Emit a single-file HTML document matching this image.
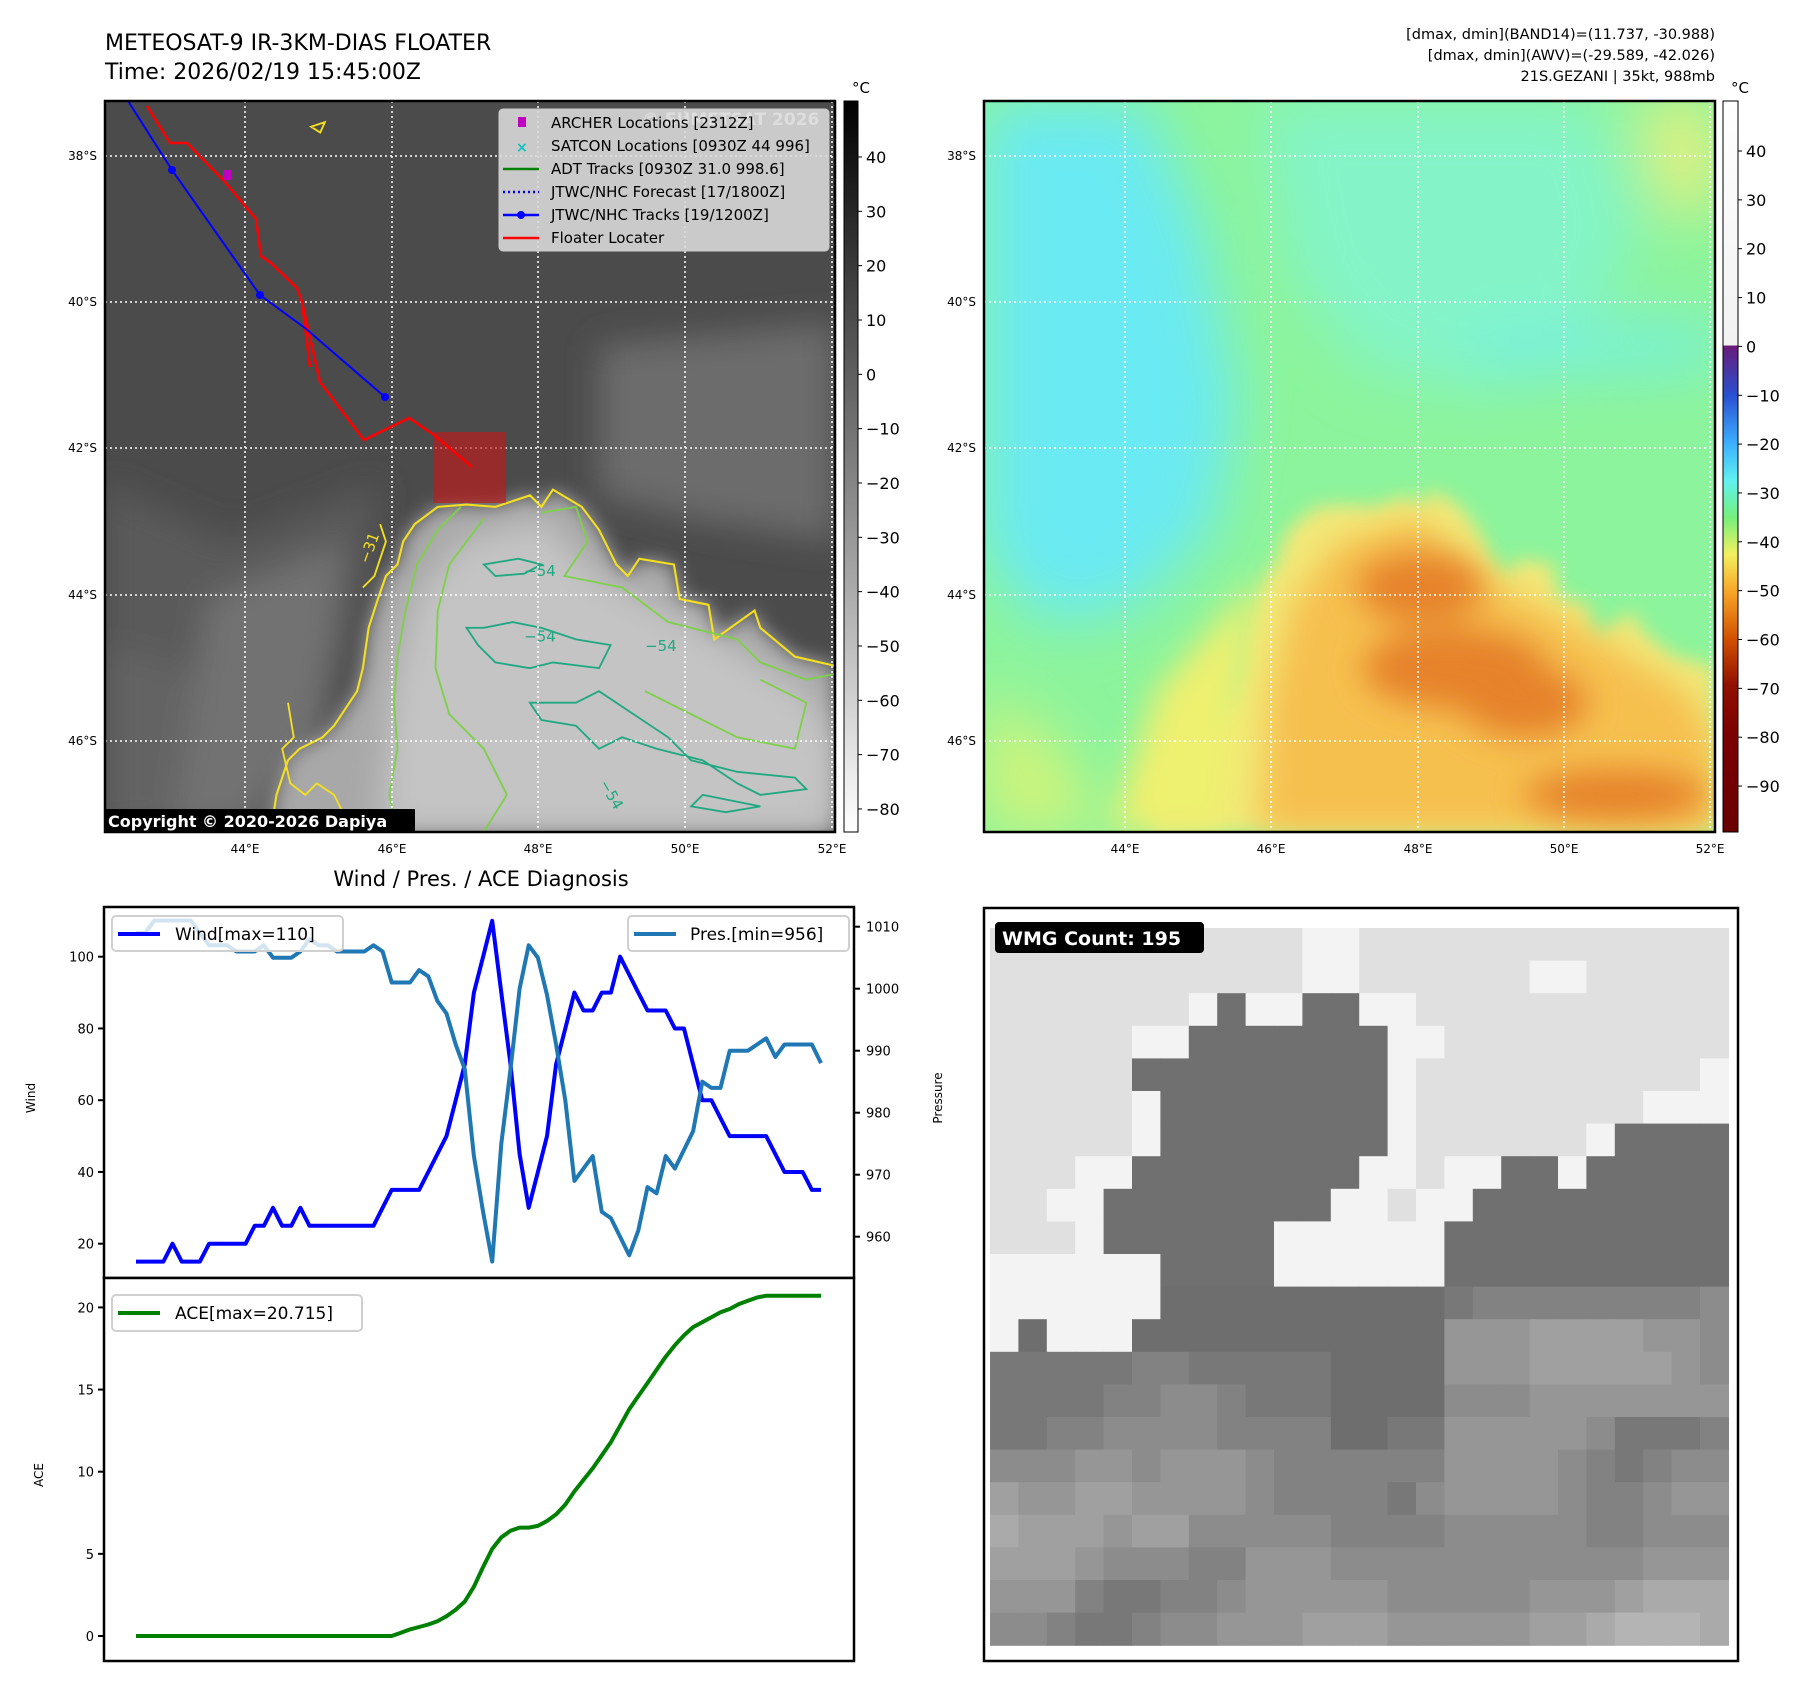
<!DOCTYPE html>
<html><head><meta charset="utf-8"><style>
html,body{margin:0;padding:0;background:#fff;}
svg{display:block;font-family:"DejaVu Sans","Liberation Sans",sans-serif;}
</style></head><body>
<svg id="fig" xmlns="http://www.w3.org/2000/svg" width="1797" height="1690" viewBox="0 0 1797 1690">
<defs>
  <filter id="blur8" x="-20%" y="-20%" width="140%" height="140%"><feGaussianBlur stdDeviation="8"/></filter>
  <filter id="blur14" x="-20%" y="-20%" width="140%" height="140%"><feGaussianBlur stdDeviation="14"/></filter>
  <filter id="blur25" x="-30%" y="-30%" width="160%" height="160%"><feGaussianBlur stdDeviation="25"/></filter>
  <clipPath id="clipL"><rect x="105" y="101" width="730" height="731"/></clipPath>
  <clipPath id="clipR"><rect x="984" y="101" width="731" height="731"/></clipPath>
  <linearGradient id="cbGrey" x1="0" y1="0" x2="0" y2="1">
    <stop offset="0" stop-color="#000"/><stop offset="1" stop-color="#fff"/>
  </linearGradient>
  <linearGradient id="cbColor" x1="0" y1="0" x2="0" y2="1">
    <stop offset="0" stop-color="#ffffff"/><stop offset="0.334" stop-color="#f2f2f2"/>
    <stop offset="0.335" stop-color="#6a1b7a"/><stop offset="0.402" stop-color="#2a4fd0"/>
    <stop offset="0.469" stop-color="#3cb0ff"/><stop offset="0.52" stop-color="#60f2f0"/>
    <stop offset="0.57" stop-color="#76f07a"/><stop offset="0.62" stop-color="#f2f060"/>
    <stop offset="0.67" stop-color="#f8a828"/><stop offset="0.737" stop-color="#d05000"/>
    <stop offset="0.80" stop-color="#901000"/><stop offset="0.87" stop-color="#7a0000"/>
    <stop offset="1" stop-color="#680000"/>
  </linearGradient>
</defs>

<text x="105" y="50" font-size="22">METEOSAT-9 IR-3KM-DIAS FLOATER</text>
<text x="105" y="79" font-size="22">Time: 2026/02/19 15:45:00Z</text>
<g font-size="14.5" text-anchor="end">
  <text x="1715" y="39">[dmax, dmin](BAND14)=(11.737, -30.988)</text>
  <text x="1715" y="60">[dmax, dmin](AWV)=(-29.589, -42.026)</text>
  <text x="1715" y="81">21S.GEZANI | 35kt, 988mb</text>
</g>

<!-- LEFT MAP -->
<g clip-path="url(#clipL)">
  <rect x="105" y="101" width="730" height="731" fill="#4b4b4b"/>
  <g transform="scale(1.152)" filter="url(#blur14)">
    <polygon points="91,420 200,470 330,420 300,560 240,722 91,722" fill="#5a5a5a"/>
    <polygon points="520,300 725,280 725,470 600,450 520,430" fill="#6c6c6c"/>
    <polygon points="90,560 240,600 230,722 90,722" fill="#646464"/>
    <polygon points="180,520 300,470 280,640 200,722 150,722" fill="#727272"/>
  </g>
  <g transform="scale(1.152)">
    <path filter="url(#blur8)" fill="#a8a8a8" d="M725,578 L690,570 L660,545 L655,530 L620,555 L615,525 L590,520 L585,490 L555,485 L545,500 L535,490 L520,460 L505,440 L480,425 L470,440 L460,430 L430,440 L405,438 L380,440 L360,455 L350,470 L345,490 L335,500 L328,520 L320,545 L315,580 L310,600 L300,615 L290,630 L280,640 L260,650 L250,660 L240,690 L235,722 L725,722 Z"/>
    <path filter="url(#blur14)" fill="#c4c4c4" d="M400,470 L470,450 L520,500 L600,540 L700,600 L725,640 L725,722 L330,722 L340,600 L360,520 Z"/>
    <path fill="none" stroke="#f5e020" stroke-width="1.8" d="M725,578 L690,570 L660,545 L655,530 L620,555 L615,525 L590,520 L585,490 L555,485 L545,500 L535,490 L520,460 L505,440 L480,425 L470,440 L460,430 L430,440 L405,438 L380,440 L360,455 L350,470 L345,490 L335,500 L328,520 L320,545 L315,580 L310,600 L300,615 L290,630 L280,640 L260,650 L250,660 L240,690 L235,722"/>
    <path fill="none" stroke="#f5e020" stroke-width="1.6" d="M250,610 L255,640 L245,650 L252,680 L265,690 L275,680 L290,690 L300,710 L285,722 M270,110 L282,106 L278,115 Z M330,455 L335,470 L325,500 L315,510"/>
    <path fill="none" stroke="#7ed04a" stroke-width="1.6" d="M400,440 L380,460 L362,490 L352,530 L345,570 L342,610 L345,650 L338,690 L345,722 M420,450 L390,490 L380,530 L378,580 L390,620 L420,650 L440,690 L420,722 M470,445 L500,440 L510,470 L490,500 L540,510 L580,540 L640,555 L660,575 L700,590 L725,585 M560,600 L600,620 L640,640 L690,650 L700,610 L660,590"/>
    <path fill="none" stroke="#20a880" stroke-width="1.6" d="M405,545 L415,560 L430,575 L460,580 L480,575 L520,580 L530,560 L500,555 L470,545 L445,540 L420,545 Z M460,610 L470,625 L500,630 L520,650 L540,640 L570,650 L610,660 L640,680 L660,690 L700,685 L690,675 L640,670 L600,660 L580,640 L550,620 L520,600 L500,610 Z M420,490 L430,500 L455,498 L470,490 L450,485 Z M600,700 L630,705 L660,700 L610,690 Z"/>
    <text x="320" y="490" fill="#f5e020" font-size="13" transform="rotate(-70 320 490)">−31</text>
    <text x="455" y="500" fill="#20a880" font-size="13">−54</text>
    <text x="455" y="557" fill="#20a880" font-size="13">−54</text>
    <text x="560" y="565" fill="#20a880" font-size="13">−54</text>
    <text x="520" y="680" fill="#20a880" font-size="13" transform="rotate(60 520 680)">−54</text>
  </g>
  <g stroke="#fff" stroke-width="1.5" stroke-dasharray="2,3">
    <line x1="245" y1="101" x2="245" y2="832"/><line x1="392" y1="101" x2="392" y2="832"/><line x1="538" y1="101" x2="538" y2="832"/><line x1="685" y1="101" x2="685" y2="832"/><line x1="832" y1="101" x2="832" y2="832"/>
    <line x1="105" y1="156" x2="835" y2="156"/><line x1="105" y1="302" x2="835" y2="302"/><line x1="105" y1="448" x2="835" y2="448"/><line x1="105" y1="595" x2="835" y2="595"/><line x1="105" y1="741" x2="835" y2="741"/>
  </g>
  <rect x="433" y="432" width="73" height="71" fill="#c01818" opacity="0.65"/>
  <polyline fill="none" stroke="#ff0000" stroke-width="2.5" points="147,106 170,143 187,143 225,182 256,219 261,256 271,263 297,288 302,302 310,367 302,302 320,382 364,440 409,418 434,435 472,467"/>
  <polyline fill="none" stroke="#0000ff" stroke-width="2" points="128,101 172,170 260,295 305,328 385,397"/>
  <g fill="#0000ff"><circle cx="172" cy="170" r="4"/><circle cx="260" cy="295" r="4"/><circle cx="385" cy="397" r="4"/></g>
  <rect x="223" y="170" width="8" height="10" fill="#c000c0"/>
  <text x="642" y="125" font-size="17" font-weight="bold" fill="#e8e8e8">© EUMETSAT 2026</text>
  <g font-size="15">
    <rect x="499" y="109" width="330" height="142" rx="4" fill="#dcdcdc" fill-opacity="0.88" stroke="#ccc"/>
    <rect x="518" y="117" width="8" height="10" fill="#c000c0"/>
    <text x="551" y="128">ARCHER Locations [2312Z]</text>
    <text x="516" y="152" fill="#10c0c0" font-weight="bold" font-size="14">×</text>
    <text x="551" y="151">SATCON Locations [0930Z 44 996]</text>
    <line x1="503" y1="169" x2="539" y2="169" stroke="#008000" stroke-width="2.5"/>
    <text x="551" y="174">ADT Tracks [0930Z 31.0 998.6]</text>
    <line x1="503" y1="192" x2="539" y2="192" stroke="#0000ff" stroke-width="2.5" stroke-dasharray="2,3"/>
    <text x="551" y="197">JTWC/NHC Forecast [17/1800Z]</text>
    <line x1="503" y1="215" x2="539" y2="215" stroke="#0000ff" stroke-width="2.5"/><circle cx="521" cy="215" r="4" fill="#0000ff"/>
    <text x="551" y="220">JTWC/NHC Tracks [19/1200Z]</text>
    <line x1="503" y1="238" x2="539" y2="238" stroke="#ff0000" stroke-width="2.5"/>
    <text x="551" y="243">Floater Locater</text>
  </g>
  <rect x="105" y="809" width="310" height="23" fill="#000"/>
  <text x="108" y="827" font-size="16" font-weight="bold" fill="#fff">Copyright © 2020-2026 Dapiya</text>
</g>
<rect x="105" y="101" width="730" height="731" fill="none" stroke="#000" stroke-width="2.5"/>

<!-- RIGHT MAP -->
<g clip-path="url(#clipR)">
  <rect x="984" y="101" width="731" height="731" fill="#8cf49c"/>
  <g transform="translate(879,0) scale(1.152)">
    <g filter="url(#blur25)">
      <polygon points="91,88 230,88 280,200 310,350 290,460 220,530 140,540 91,480" fill="#6aeaf2"/>
      <polygon points="330,88 620,88 660,200 600,320 520,340 420,320 360,240" fill="#84f4c8"/>
      <polygon points="500,290 725,280 725,320 540,325" fill="#76f0e0"/>
      <polygon points="91,600 150,640 200,722 91,722" fill="#d0f47a"/>
      <polygon points="660,88 725,88 725,190 680,180" fill="#e8f080"/>
    </g>
    <path filter="url(#blur8)" fill="#f2e878" d="M725,578 L690,570 L660,545 L655,530 L620,555 L615,525 L590,520 L585,490 L555,485 L545,500 L535,490 L520,460 L505,440 L480,425 L470,440 L460,430 L430,440 L405,438 L380,440 L360,455 L350,470 L345,490 L335,500 L328,520 L320,545 L315,580 L310,600 L300,615 L290,630 L280,640 L260,650 L250,660 L240,690 L235,722 L725,722 Z"/>
    <path filter="url(#blur14)" fill="#eef070" d="M330,500 L240,600 L200,722 L300,722 Z"/>
    <path filter="url(#blur14)" fill="#f6c050" d="M400,470 L470,450 L520,500 L600,540 L700,600 L725,640 L725,722 L330,722 L340,600 L360,520 Z"/>
    <g filter="url(#blur14)" fill="#e6822a">
      <ellipse cx="470" cy="510" rx="55" ry="30"/>
      <ellipse cx="500" cy="580" rx="80" ry="35"/>
      <ellipse cx="560" cy="610" rx="55" ry="30"/>
      <ellipse cx="640" cy="690" rx="80" ry="22"/>
    </g>
  </g>
  <g stroke="#fff" stroke-width="1.5" stroke-dasharray="2,3">
    <line x1="1125" y1="101" x2="1125" y2="832"/><line x1="1271" y1="101" x2="1271" y2="832"/><line x1="1418" y1="101" x2="1418" y2="832"/><line x1="1564" y1="101" x2="1564" y2="832"/><line x1="1710" y1="101" x2="1710" y2="832"/>
    <line x1="984" y1="156" x2="1715" y2="156"/><line x1="984" y1="302" x2="1715" y2="302"/><line x1="984" y1="448" x2="1715" y2="448"/><line x1="984" y1="595" x2="1715" y2="595"/><line x1="984" y1="741" x2="1715" y2="741"/>
  </g>
</g>
<rect x="984" y="101" width="731" height="731" fill="none" stroke="#000" stroke-width="2.5"/>

<g font-size="12">
  <g text-anchor="end">
    <text x="97" y="160">38°S</text><text x="97" y="306">40°S</text><text x="97" y="452">42°S</text><text x="97" y="599">44°S</text><text x="97" y="745">46°S</text>
    <text x="976" y="160">38°S</text><text x="976" y="306">40°S</text><text x="976" y="452">42°S</text><text x="976" y="599">44°S</text><text x="976" y="745">46°S</text>
  </g>
  <g text-anchor="middle">
    <text x="245" y="853">44°E</text><text x="392" y="853">46°E</text><text x="538" y="853">48°E</text><text x="685" y="853">50°E</text><text x="832" y="853">52°E</text>
    <text x="1125" y="853">44°E</text><text x="1271" y="853">46°E</text><text x="1418" y="853">48°E</text><text x="1564" y="853">50°E</text><text x="1710" y="853">52°E</text>
  </g>
</g>

<rect x="844" y="101" width="14" height="731" fill="url(#cbGrey)" stroke="#000" stroke-width="1"/>
<rect x="1723" y="101" width="15" height="731" fill="url(#cbColor)" stroke="#000" stroke-width="1"/>
<text x="852" y="93" font-size="15">°C</text>
<text x="1731" y="93" font-size="15">°C</text>
<g id="cbTicks" font-size="16"></g>

<text x="481" y="886" font-size="21" text-anchor="middle">Wind / Pres. / ACE Diagnosis</text>
<rect x="104" y="907" width="750" height="371" fill="#fff" stroke="#000" stroke-width="2.5"/>
<rect x="104" y="1278" width="750" height="383" fill="#fff" stroke="#000" stroke-width="2.5"/>
<g id="windG"></g>
<text x="35" y="1098" font-size="12" text-anchor="middle" transform="rotate(-90 35 1098)">Wind</text>
<text x="942" y="1098" font-size="12" text-anchor="middle" transform="rotate(-90 942 1098)">Pressure</text>
<text x="43" y="1475" font-size="12" text-anchor="middle" transform="rotate(-90 43 1475)">ACE</text>

<rect x="984" y="908" width="754" height="753" fill="#fff" stroke="#000" stroke-width="2.5"/>
<g id="wmgG"></g>
<rect x="995" y="922" width="209" height="31" rx="4" fill="#000"/>
<text x="1002" y="945" font-size="19" font-weight="bold" fill="#fff">WMG Count: 195</text>
</svg>

<script>
const NS='http://www.w3.org/2000/svg';
const windVals=[15,15,15,15,20,15,15,15,20,20,20,20,20,25,25,30,25,25,30,25,25,25,25,25,25,25,25,30,35,35,35,35,40,45,50,60,70,90,100,110,90,70,45,30,40,50,70,80,90,85,85,90,90,100,95,90,85,85,85,80,80,70,60,60,55,50,50,50,50,50,45,40,40,40,35,35];
const presVals=[1009,1009,1011,1011,1011,1011,1011,1009,1007,1007,1007,1006,1006,1006,1007,1005,1005,1005,1006,1008,1007,1007,1006,1006,1006,1006,1007,1006,1001,1001,1001,1003,1002,998,996,991,987,973,964,956,975,987,1000,1007,1005,999,991,982,969,971,973,964,963,960,957,961,968,967,973,971,974,977,985,984,984,990,990,990,991,992,989,991,991,991,991,988];
const aceVals=[0,0,0,0,0,0,0,0,0,0,0,0,0,0,0,0,0,0,0,0,0,0,0,0,0,0,0,0,0,0.2,0.4,0.55,0.7,0.9,1.2,1.6,2.1,3.0,4.2,5.3,6.0,6.4,6.6,6.6,6.7,7.0,7.4,8.0,8.8,9.5,10.2,11.0,11.8,12.8,13.8,14.6,15.4,16.2,17.0,17.7,18.3,18.8,19.1,19.4,19.7,19.9,20.2,20.4,20.6,20.715,20.715,20.715,20.715,20.715,20.715,20.715];
const windTicks=[20,40,60,80,100];
const presTicks=[960,970,980,990,1000,1010];
const aceTicks=[0,5,10,15,20];
const irTicks=[40,30,20,10,0,-10,-20,-30,-40,-50,-60,-70,-80];
const awvTicks=[40,30,20,10,0,-10,-20,-30,-40,-50,-60,-70,-80,-90];
const wmgRows=[
"LLLLLLLLLLLWWLLLLLLLLLLLLL",
"LLLLLLLLLLLWWLLLLLLWWLLLLL",
"LLLLLLLWDWWDDWWLLLLLLLLLLL",
"LLLLLWWDDDDDDDWWLLLLLLLLLL",
"LLLLLDDDDDDDDDWLLLLLLLLLLW",
"LLLLLWDDDDDDDDWLLLLLLLLWWW",
"LLLLLWDDDDDDDDWLLLLLLWDDDD",
"LLLWWDDDDDDDDWWLWWDDWDDDDD",
"LLWWDDDDDDDDWWLWWDDDDDDDDD",
"LLLWDDDDDDWWWWWWDDDDDDDDDD",
"WWWWWWDDDDWWWWWWDDDDDDDDDD",
"WWWWWW11111111112333333334",
"W1WWW111111111115556666554",
"22222332222211115556666654",
"22223344322211114445555555",
"22334444333311225555542223",
"44455455543333335555432344",
"65566555543333245555433455",
"76665664444433334444433444",
"66654443355544444444444555",
"55532233455555444445556777",
"44322344555666555556678887"];

function xI(i){return 136+i*(821-136)/75;}
function yW(v){return 956.7+(100-v)*3.5875;}
function yP(v){return 926.7+(1010-v)*6.2;}
function yA(v){return 1636-v*16.43;}
function yIR(v){return 157+(40-v)*5.433;}
function yAWV(v){return 151+(40-v)*4.885;}

function mk(tag,attrs,parent){const e=document.createElementNS(NS,tag);for(const k in attrs)e.setAttribute(k,attrs[k]);parent.appendChild(e);return e;}
function fmt(v){return v<0?'\u2212'+Math.abs(v):String(v);}

const cb=document.getElementById('cbTicks');
irTicks.forEach(v=>{const y=yIR(v);
  const tk=mk('line',{x1:858,y1:y,x2:862,y2:y,stroke:'#000'},cb);
  
  
  const l=mk('text',{x:866,y:y+6},cb);l.textContent=fmt(v);
  
  
});
awvTicks.forEach(v=>{const y=yAWV(v);
  const tk=mk('line',{x1:1738,y1:y,x2:1742,y2:y,stroke:'#000'},cb);
  
  
  const l=mk('text',{x:1746,y:y+6},cb);l.textContent=fmt(v);
  
  
});

const g=document.getElementById('windG');
windTicks.forEach(v=>{const y=yW(v);
  mk('line',{x1:98,y1:y,x2:104,y2:y,stroke:'#000','stroke-width':2},g);
  const l=mk('text',{x:94,y:y+5,'font-size':13,'text-anchor':'end'},g);l.textContent=v;
  
  
});
presTicks.forEach(v=>{const y=yP(v);
  mk('line',{x1:854,y1:y,x2:860,y2:y,stroke:'#000','stroke-width':2},g);
  const l=mk('text',{x:866,y:y+5,'font-size':13},g);l.textContent=v;
  
  
});
aceTicks.forEach(v=>{const y=yA(v);
  mk('line',{x1:98,y1:y,x2:104,y2:y,stroke:'#000','stroke-width':2},g);
  const l=mk('text',{x:94,y:y+5,'font-size':13,'text-anchor':'end'},g);l.textContent=v;
  
  
});
function drawLine(vals,yf,color,name){
  const p=mk('polyline',{points:vals.map((v,i)=>xI(i).toFixed(1)+','+yf(v).toFixed(1)).join(' '),fill:'none',stroke:color,'stroke-width':4,'stroke-linejoin':'round'},g);
  
  
}
drawLine(windVals,yW,'#0000ff','wind-line');
drawLine(presVals,yP,'#1f77b4','pressure-line');
drawLine(aceVals,yA,'#008000','ace-line');

const lg1=mk('rect',{x:112,y:916,width:231,height:35,rx:4,fill:'#fff','fill-opacity':0.8,stroke:'#d0d0d0','stroke-width':2},g);


mk('line',{x1:118,y1:934,x2:160,y2:934,stroke:'#0000ff','stroke-width':4},g);
let tx=mk('text',{x:175,y:940,'font-size':17},g);tx.textContent='Wind[max=110]';
const lg2=mk('rect',{x:628,y:916,width:221,height:35,rx:4,fill:'#fff','fill-opacity':0.8,stroke:'#d0d0d0','stroke-width':2},g);


mk('line',{x1:634,y1:934,x2:676,y2:934,stroke:'#1f77b4','stroke-width':4},g);
tx=mk('text',{x:690,y:940,'font-size':17},g);tx.textContent='Pres.[min=956]';
const lg3=mk('rect',{x:112,y:1295,width:250,height:36,rx:4,fill:'#fff','fill-opacity':0.8,stroke:'#d0d0d0','stroke-width':2},g);


mk('line',{x1:118,y1:1313,x2:160,y2:1313,stroke:'#008000','stroke-width':4},g);
tx=mk('text',{x:175,y:1319,'font-size':17},g);tx.textContent='ACE[max=20.715]';

const wg=document.getElementById('wmgG');
const cw=28.4,rh=32.6,x0=990,y0=928;
function grey(ch){if(ch==='W')return 243;if(ch==='L')return 224;if(ch==='D')return 112;return 100+parseInt(ch,10)*10;}
wmgRows.forEach((row,r)=>{
  for(let c=0;c<row.length;c++){
    const v=grey(row[c]);
    const cell=mk('rect',{x:(x0+c*cw).toFixed(1),y:(y0+r*rh).toFixed(1),width:cw+0.6,height:rh+0.6,fill:'rgb('+v+','+v+','+v+')'},wg);
    
    
  }
});
</script>
</body></html>
